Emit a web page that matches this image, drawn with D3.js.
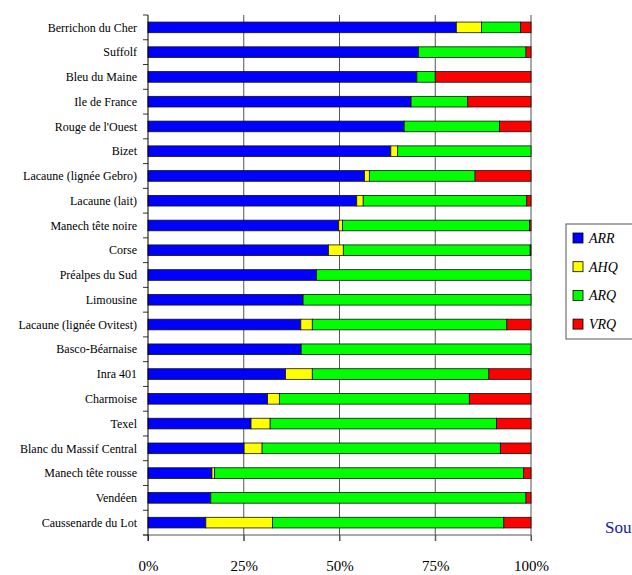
<!DOCTYPE html>
<html>
<head>
<meta charset="utf-8">
<script src="https://cdn.jsdelivr.net/npm/d3@7"></script>
<style>
  body { margin: 0; background: #fff; }
  svg text { font-family: "Liberation Serif", "Times New Roman", "DejaVu Serif", serif; }
</style>
</head>
<body>
<svg width="632" height="575"></svg>
<script>
// breeds, top to bottom
const breeds = [
  "Berrichon du Cher", "Suffolf", "Bleu du Maine", "Ile de France",
  "Rouge de l'Ouest", "Bizet", "Lacaune (lignée Gebro)", "Lacaune (lait)",
  "Manech tête noire", "Corse", "Préalpes du Sud", "Limousine",
  "Lacaune (lignée Ovitest)", "Basco-Béarnaise", "Inra 401", "Charmoise",
  "Texel", "Blanc du Massif Central", "Manech tête rousse", "Vendéen",
  "Caussenarde du Lot"
];

// percentage of each genotype class, same order as breeds
const ARR = [80.5, 70.6, 70.2, 68.7, 66.9, 63.4, 56.5, 54.5, 49.8, 47.1, 44.0, 40.5, 39.9, 40.0, 35.9, 31.2, 26.9, 25.1, 16.7, 16.4, 15.1];
const AHQ = [6.6, 0, 0, 0, 0, 1.8, 1.3, 1.7, 1.0, 3.9, 0, 0, 3.0, 0, 7.0, 3.1, 5.0, 4.7, 0.7, 0, 17.4];
const ARQ = [10.2, 28.1, 4.8, 14.8, 24.9, 34.8, 27.6, 42.7, 48.8, 48.8, 56.0, 59.5, 50.8, 60.0, 46.1, 49.6, 59.1, 62.2, 80.7, 82.3, 60.4];
const VRQ = [2.7, 1.3, 25.0, 16.5, 8.2, 0, 14.6, 1.1, 0.4, 0.2, 0, 0, 6.3, 0, 11.0, 16.1, 9.0, 8.0, 1.9, 1.3, 7.1];

const classes = ["ARR", "AHQ", "ARQ", "VRQ"];
const colors = ["#0000ff", "#ffff00", "#00ff00", "#ff0000"];
const xTicks = [0, 25, 50, 75, 100];

const rows = breeds.map((b, i) => ({ breed: b, ARR: ARR[i], AHQ: AHQ[i], ARQ: ARQ[i], VRQ: VRQ[i] }));

const svg = d3.select("svg");
const margin = { top: 15, left: 148, right: 101, bottom: 40 };
const plotW = 632 - margin.left - margin.right;   // ~383
const plotH = 575 - margin.top - margin.bottom;   // ~520

const x = d3.scaleLinear().domain([0, 100]).range([margin.left, margin.left + plotW]);
const y = d3.scaleBand().domain(breeds).range([margin.top, margin.top + plotH]).paddingInner(0.57).paddingOuter(0.285);
const color = d3.scaleOrdinal().domain(classes).range(colors);

const yTop = margin.top, yBot = margin.top + plotH;

// vertical gridlines, extended below as tick marks
svg.append("g")
  .selectAll("line")
  .data(xTicks.slice(1))
  .join("line")
  .attr("x1", d => x(d)).attr("x2", d => x(d))
  .attr("y1", yTop).attr("y2", yBot + 6)
  .attr("stroke", "#555")
  .attr("stroke-width", 1);

// bottom axis line
svg.append("line")
  .attr("x1", x(0) - 5).attr("x2", x(100))
  .attr("y1", yBot).attr("y2", yBot)
  .attr("stroke", "#555");

// x tick labels
const xAxis = svg.append("g")
  .attr("transform", `translate(0,${yBot})`)
  .call(d3.axisBottom(x).tickValues(xTicks).tickFormat(d => d + "%").tickSize(6).tickPadding(19));
xAxis.attr("font-family", null).attr("font-size", null);
xAxis.select(".domain").remove();
xAxis.selectAll(".tick line").attr("stroke", "#555");
xAxis.selectAll("text").attr("font-size", 15).attr("fill", "#000");

// stacked bars
const stack = d3.stack().keys(classes)(rows);
svg.append("g")
  .selectAll("g")
  .data(stack)
  .join("g")
  .attr("fill", d => color(d.key))
  .selectAll("rect")
  .data(d => d.filter(s => s[1] - s[0] > 0))
  .join("rect")
  .attr("x", d => x(d[0]))
  .attr("y", d => y(d.data.breed))
  .attr("width", d => x(d[1]) - x(d[0]))
  .attr("height", y.bandwidth())
  .attr("stroke", "#111")
  .attr("stroke-width", 0.8);

// left axis with category labels
const step = y.step();
svg.append("g")
  .selectAll("line")
  .data(d3.range(breeds.length + 1))
  .join("line")
  .attr("x1", x(0) - 5).attr("x2", x(0))
  .attr("y1", i => yTop + i * step).attr("y2", i => yTop + i * step)
  .attr("stroke", "#333");
svg.append("line")
  .attr("x1", x(0)).attr("x2", x(0))
  .attr("y1", yTop).attr("y2", yBot + 6)
  .attr("stroke", "#000");

svg.append("g")
  .selectAll("text")
  .data(breeds)
  .join("text")
  .attr("x", x(0) - 11)
  .attr("y", d => y(d) + y.bandwidth() / 2)
  .attr("dy", "0.35em")
  .attr("text-anchor", "end")
  .attr("font-size", 12)
  .text(d => d);

// legend
const leg = svg.append("g").attr("transform", "translate(566,224)");
leg.append("rect")
  .attr("width", 80).attr("height", 115)
  .attr("fill", "#fff").attr("stroke", "#555");
const items = leg.selectAll("g.item")
  .data(classes)
  .join("g")
  .attr("class", "item")
  .attr("transform", (d, i) => `translate(7,${9 + i * 28.7})`);
items.append("rect")
  .attr("width", 10).attr("height", 10)
  .attr("fill", d => color(d))
  .attr("stroke", "#000").attr("stroke-width", 0.8);
items.append("text")
  .attr("x", 16).attr("y", 5).attr("dy", "0.35em")
  .attr("font-size", 14)
  .attr("font-style", "italic")
  .text(d => d);

// source note, cut by the page edge as in the original
svg.append("text")
  .attr("x", 605).attr("y", 533)
  .attr("font-size", 17)
  .attr("fill", "#1a1aa0")
  .text("Source : Inra");
</script>
</body>
</html>
